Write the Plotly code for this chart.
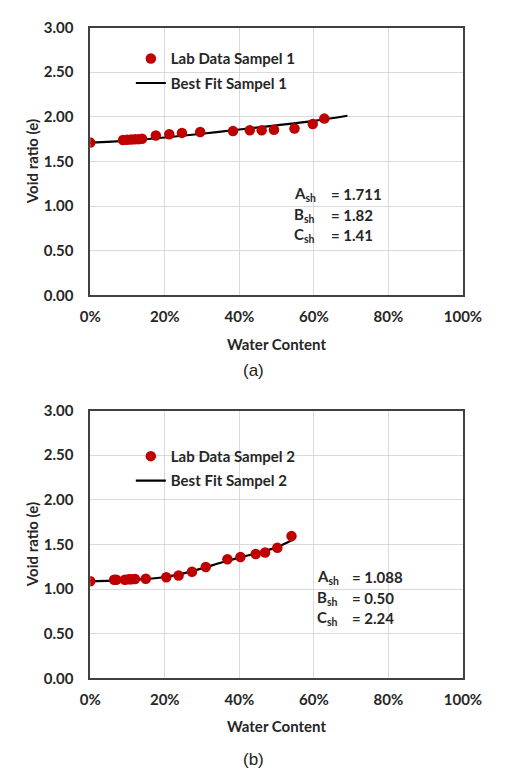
import plotly.graph_objects as go

# ---------------- data ----------------
w1 = [0.0, 0.088, 0.099, 0.110, 0.120, 0.130, 0.139, 0.176, 0.212, 0.246, 0.295,
      0.383, 0.428, 0.460, 0.493, 0.548, 0.597, 0.628]
e1 = [1.711, 1.740, 1.742, 1.745, 1.748, 1.750, 1.755, 1.790, 1.805, 1.820, 1.830,
      1.840, 1.850, 1.850, 1.855, 1.870, 1.920, 1.980]
fit_w1 = [0.0, 0.1, 0.2, 0.3, 0.4, 0.5, 0.6, 0.69]
fit_e1 = [1.711, 1.733, 1.768, 1.810, 1.858, 1.905, 1.955, 2.012]

w2 = [0.0, 0.064, 0.070, 0.093, 0.103, 0.110, 0.120, 0.149, 0.204, 0.237, 0.273,
      0.310, 0.368, 0.403, 0.444, 0.469, 0.502, 0.540]
e2 = [1.088, 1.104, 1.104, 1.105, 1.110, 1.110, 1.112, 1.115, 1.133, 1.152, 1.193,
      1.248, 1.333, 1.360, 1.393, 1.410, 1.463, 1.593]
fit_w2 = [0.0, 0.1, 0.15, 0.2, 0.25, 0.3, 0.35, 0.4, 0.45, 0.5, 0.545]
fit_e2 = [1.088, 1.100, 1.113, 1.135, 1.176, 1.232, 1.294, 1.352, 1.405, 1.468, 1.555]

params1 = [("A", "1.711"), ("B", "1.82"), ("C", "1.41")]
params2 = [("A", "1.088"), ("B", "0.50"), ("C", "2.24")]

x_ticks = [0, 0.2, 0.4, 0.6, 0.8, 1.0]
y_ticks = [0, 0.5, 1.0, 1.5, 2.0, 2.5, 3.0]

RED = "#c00000"
FONT = "Lato"
FS = 15
TXT = "#262626"
W, H = 531, 783

fig = go.Figure()

def add_panel(w, e, fw, fe, n, xa, ya, legend):
    fig.add_trace(go.Scatter(x=fw, y=fe, mode="lines", line=dict(color="black", width=2.2, shape="spline"),
                             name=f"Best Fit Sampel {n}", xaxis=xa, yaxis=ya, legend=legend,
                             legendgroup=f"f{n}", legendrank=2))
    fig.add_trace(go.Scatter(x=w, y=e, mode="markers", marker=dict(color=RED, size=10.5),
                             name=f"Lab Data Sampel {n}", xaxis=xa, yaxis=ya, legend=legend,
                             legendgroup=f"d{n}", legendrank=1))

add_panel(w1, e1, fit_w1, fit_e1, 1, "x", "y", "legend")
add_panel(w2, e2, fit_w2, fit_e2, 2, "x2", "y2", "legend2")

xd = [84 / W, 479 / W]
yd1 = [1 - 292 / H, 1 - 18 / H]
yd2 = [1 - 684 / H, 1 - 410 / H]

axis_common = dict(showline=True, linecolor="#404040", linewidth=1.6, mirror=True,
                   showgrid=True, gridcolor="#d9d9d9", gridwidth=1, zeroline=False,
                   ticks="", tickfont=dict(family=FONT, size=FS, color=TXT, weight="bold"))

for xa, ya, yd in [("xaxis", "yaxis", yd1), ("xaxis2", "yaxis2", yd2)]:
    fig.layout[xa] = dict(axis_common, domain=xd, range=[0, 1], tickvals=x_ticks,
                          tickformat=".0%", ticklabelstandoff=7,
                          anchor=ya.replace("axis", ""))
    fig.layout[ya] = dict(axis_common, domain=yd, range=[0, 3], tickvals=y_ticks,
                          tickformat=".2f", ticklabelstandoff=12,
                          anchor=xa.replace("axis", ""))

leg_common = dict(x=127 / W, xanchor="left", yanchor="top", bgcolor="rgba(0,0,0,0)",
                  font=dict(family=FONT, size=FS, color=TXT, weight="bold"),
                  traceorder="grouped", tracegroupgap=2, itemwidth=30)
fig.update_layout(
    width=W, height=H, margin=dict(l=0, r=0, t=0, b=0),
    paper_bgcolor="white", plot_bgcolor="white", showlegend=True,
    legend=dict(leg_common, y=1 - 33 / H),
    legend2=dict(leg_common, y=1 - 440 / H),
)

ann = []
def px_x(px):
    return px / W
def px_y(py):
    return 1 - py / H

for (top, bot, lab, labpy, titlepy) in [(18, 292, "(a)", 369, 342), (410, 684, "(b)", 767, 733)]:
    ann.append(dict(x=px_x(281), y=px_y(titlepy), xref="paper", yref="paper", text="Water Content",
                    showarrow=False, font=dict(family=FONT, size=FS, color=TXT, weight="bold"),
                    xanchor="center", yanchor="middle"))
    ann.append(dict(x=px_x(23), y=px_y((top + bot) / 2), xref="paper", yref="paper", text="Void ratio (e)",
                    textangle=-90, showarrow=False,
                    font=dict(family=FONT, size=FS, color=TXT, weight="bold"),
                    xanchor="center", yanchor="middle"))
    ann.append(dict(x=px_x(257), y=px_y(labpy), xref="paper", yref="paper", text=lab,
                    showarrow=False, font=dict(family="Liberation Sans", size=17, color="#222"),
                    xanchor="center", yanchor="middle"))

ys = [1.139, 0.898, 0.679]
for params, xa, ya, xl, xe in [(params1, "x", "y", 0.540, 0.641), (params2, "x2", "y2", 0.602, 0.697)]:
    for (sym, val), yy in zip(params, ys):
        ann.append(dict(x=xl, y=yy, xref=xa, yref=ya, text=f"{sym}<sub>sh</sub>", showarrow=False,
                        font=dict(family=FONT, size=FS, color=TXT, weight="bold"),
                        xanchor="left", yanchor="middle"))
        ann.append(dict(x=xe, y=yy, xref=xa, yref=ya, text=f"= {val}", showarrow=False,
                        font=dict(family=FONT, size=FS, color=TXT, weight="bold"),
                        xanchor="left", yanchor="middle"))

fig.update_layout(annotations=ann)
fig.write_html("out.html")
